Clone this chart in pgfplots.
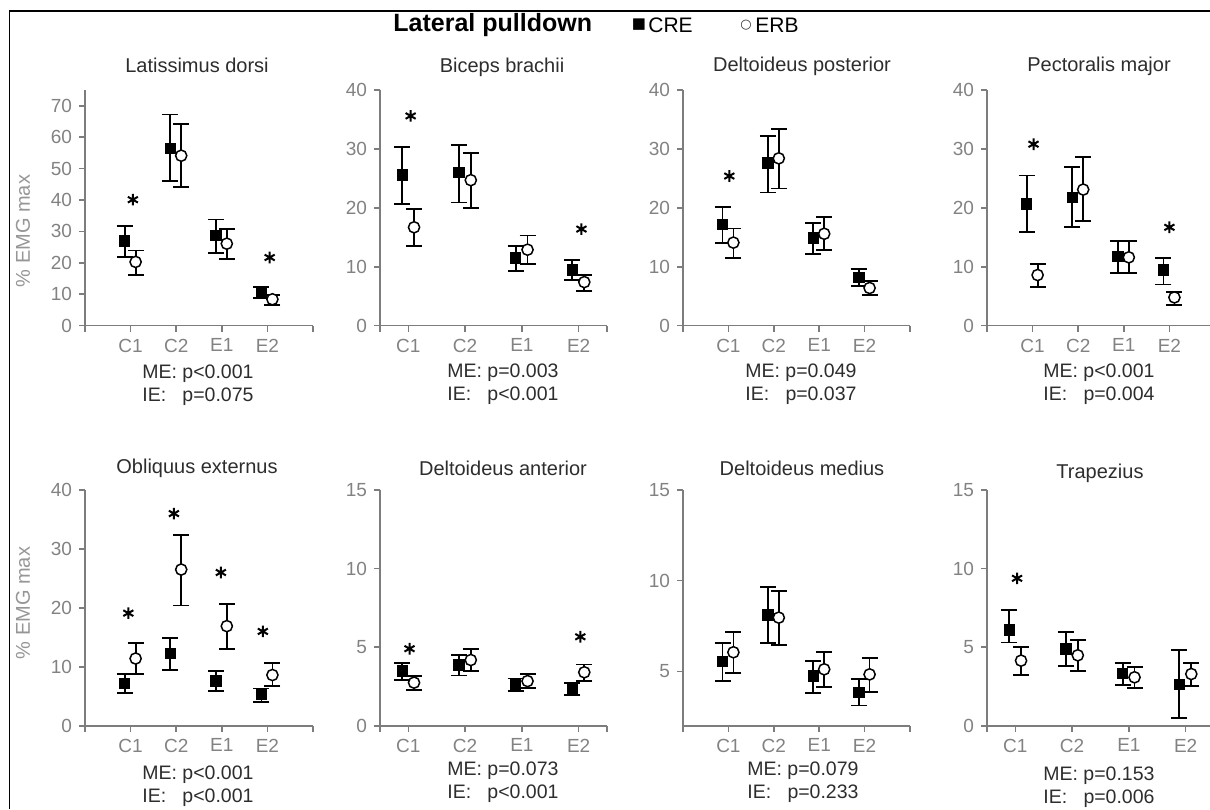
\documentclass[border=0pt]{standalone}
\usepackage{pgfplots}
\usepackage{pgfplotstable}
\pgfplotsset{compat=1.18}
\usepackage{fontspec}
\setmainfont{Liberation Sans}
\newfontfamily\dejavu{DejaVu Sans}
\definecolor{axgray}{RGB}{125,125,125}
\definecolor{tickgray}{RGB}{130,130,130}
\definecolor{labgray}{RGB}{150,150,150}
\definecolor{txt}{RGB}{45,45,45}

\pgfplotsset{
  panel/.style={
    scale only axis, width=114pt, height=117.85pt, anchor=south west,
    axis lines=left, axis line style={-, line width=0.8pt, draw=axgray},
    every tick/.style={line width=0.8pt, draw=axgray},
    tick align=outside, major tick length=3pt,
    ticklabel style={font=\fontsize{9.5}{10}\selectfont, color=tickgray},
    /pgf/number format/assume math mode=true,
    xtick={0,1,2,3,4,5}, xticklabels={{},C1,C2,E1,E2,{}}, xmin=0, xmax=5,
    ymin=0, clip=false,
  },
  narrow/.style={xtick={0.5,1,2,3,4,4.5}, xmin=0.5, xmax=4.5},
  cre/.style={only marks, black, mark=square*, mark size=2.6pt,
    mark options={fill=black, draw=black},
    error bars/.cd, y dir=both, y explicit,
    error bar style={line width=0.9pt, black},
    error mark options={rotate=90, line width=0.9pt, mark size=4pt, black}},
  erb/.style={only marks, black, mark=*, mark size=2.8pt,
    mark options={fill=white, draw=black, line width=0.75pt},
    error bars/.cd, y dir=both, y explicit,
    error bar style={line width=0.9pt, black},
    error mark options={rotate=90, line width=0.9pt, mark size=4pt, black}},
  star/.style={only marks, black, mark=asterisk, mark size=2.9pt, mark options={line width=1pt}},
}

% ---------- data: x  y  error+  error- ----------
\pgfplotstableread{
x y ep em
0.87 27.0 4.8 5.1
1.87 56.5 10.7 10.4
2.87 28.8 5.0 5.6
3.87 10.7 1.7 2.0
}\PaC
\pgfplotstableread{
x y ep em
1.11 20.3 3.6 4.1
2.11 54.1 10.2 10.0
3.11 26.1 4.7 4.8
4.11 8.4 1.3 1.8
}\PaE
\pgfplotstableread{
x y ep em
0.89 25.6 4.7 4.9
1.89 26.0 4.6 5.1
2.89 11.5 2.0 2.2
3.89 9.5 1.7 1.8
}\PbC
\pgfplotstableread{
x y ep em
1.10 16.7 3.1 3.2
2.10 24.7 4.6 4.7
3.10 12.9 2.4 2.4
4.10 7.4 1.2 1.5
}\PbE
\pgfplotstableread{
x y ep em
0.87 17.2 3.0 3.1
1.87 27.6 4.6 5.0
2.87 14.9 2.5 2.7
3.87 8.2 1.4 1.4
}\PcC
\pgfplotstableread{
x y ep em
1.11 14.1 2.4 2.6
2.11 28.4 5.0 5.1
3.11 15.6 2.8 2.7
4.11 6.4 1.2 1.2
}\PcE
\pgfplotstableread{
x y ep em
0.87 20.7 4.8 4.8
1.87 21.8 5.2 5.1
2.87 11.8 2.6 2.9
3.87 9.5 2.0 2.5
}\PdC
\pgfplotstableread{
x y ep em
1.11 8.6 1.9 2.1
2.11 23.1 5.5 5.4
3.11 11.6 2.8 2.7
4.11 4.8 0.9 1.3
}\PdE
\pgfplotstableread{
x y ep em
0.87 7.2 1.6 1.7
1.87 12.3 2.6 2.9
2.87 7.6 1.7 1.7
3.87 5.3 1.0 1.3
}\PeC
\pgfplotstableread{
x y ep em
1.11 11.4 2.6 2.6
2.11 26.5 5.9 6.1
3.11 16.9 3.8 3.9
4.11 8.6 2.0 1.9
}\PeE
\pgfplotstableread{
x y ep em
0.89 3.50 0.50 0.60
1.89 3.86 0.64 0.66
2.89 2.65 0.35 0.45
3.89 2.33 0.37 0.40
}\PfC
\pgfplotstableread{
x y ep em
1.10 2.74 0.42 0.47
2.10 4.18 0.68 0.70
3.10 2.84 0.43 0.46
4.10 3.40 0.50 0.56
}\PfE
\pgfplotstableread{
x y ep em
0.87 5.53 1.01 1.06
1.87 8.11 1.52 1.57
2.87 4.74 0.83 0.95
3.87 3.84 0.72 0.73
}\PgC
\pgfplotstableread{
x y ep em
1.11 6.05 1.10 1.16
2.11 7.96 1.49 1.51
3.11 5.11 0.94 0.96
4.11 4.83 0.89 0.95
}\PgE
\pgfplotstableread{
x y ep em
0.89 6.09 1.27 0.79
1.89 4.88 1.06 1.06
2.89 3.33 0.64 0.76
3.89 2.63 2.19 2.16
}\PhC
\pgfplotstableread{
x y ep em
1.10 4.14 0.85 0.91
2.10 4.48 0.97 0.98
3.10 3.08 0.68 0.70
4.10 3.29 0.68 0.74
}\PhE

\newcommand{\ptitle}[1]{\fontsize{10}{12}\selectfont\color{txt}#1}
\newcommand{\stats}[2]{\fontsize{9.75}{11.5}\selectfont\color{txt}\begin{tabular}{@{}l@{\ }l@{}}ME: & #1\\ IE: & #2\end{tabular}}

\begin{document}
\begin{tikzpicture}
\path[use as bounding box] (0,0) rectangle (605pt,404.5pt);
\draw[line width=0.75pt] (4.75pt,0pt) -- (4.75pt,399pt) -- (605pt,399pt);

% ---------------- top row ----------------
\begin{axis}[panel, at={(42.5pt,241.65pt)}, ymax=75, ytick={0,10,...,70}]
\addplot[cre] table[x=x,y=y,y error plus=ep,y error minus=em] {\PaC};
\addplot[erb] table[x=x,y=y,y error plus=ep,y error minus=em] {\PaE};
\addplot[star] coordinates {(1.05,40.1) (4.05,21.7)};
\end{axis}

\begin{axis}[panel, narrow, width=113.5pt, at={(190pt,241.65pt)}, ymax=40, ytick={0,10,...,40}]
\addplot[cre] table[x=x,y=y,y error plus=ep,y error minus=em] {\PbC};
\addplot[erb] table[x=x,y=y,y error plus=ep,y error minus=em] {\PbE};
\addplot[star] coordinates {(1.04,35.6) (4.05,16.4)};
\end{axis}

\begin{axis}[panel, width=113.5pt, at={(341.5pt,241.65pt)}, ymax=40, ytick={0,10,...,40}]
\addplot[cre] table[x=x,y=y,y error plus=ep,y error minus=em] {\PcC};
\addplot[erb] table[x=x,y=y,y error plus=ep,y error minus=em] {\PcE};
\addplot[star] coordinates {(1.02,25.4)};
\end{axis}

\begin{axis}[panel, at={(493.5pt,241.65pt)}, ymax=40, ytick={0,10,...,40}]
\addplot[cre] table[x=x,y=y,y error plus=ep,y error minus=em] {\PdC};
\addplot[erb] table[x=x,y=y,y error plus=ep,y error minus=em] {\PdE};
\addplot[star] coordinates {(1.02,30.8) (4.0,16.7)};
\end{axis}

% ---------------- bottom row ----------------
\begin{axis}[panel, at={(42.5pt,41.65pt)}, ymax=40, ytick={0,10,...,40}]
\addplot[cre] table[x=x,y=y,y error plus=ep,y error minus=em] {\PeC};
\addplot[erb] table[x=x,y=y,y error plus=ep,y error minus=em] {\PeE};
\addplot[star] coordinates {(0.95,19.1) (1.95,36.0) (2.98,26.0) (3.9,16.0)};
\end{axis}

\begin{axis}[panel, narrow, width=113.5pt, at={(190pt,41.65pt)}, ymax=15, ytick={0,5,10,15}]
\addplot[cre] table[x=x,y=y,y error plus=ep,y error minus=em] {\PfC};
\addplot[erb] table[x=x,y=y,y error plus=ep,y error minus=em] {\PfE};
\addplot[star] coordinates {(1.02,4.9) (4.03,5.66)};
\end{axis}

\begin{axis}[panel, width=113.5pt, at={(341.5pt,41.65pt)}, ymin=2, ymax=15, ytick={5,10,15}]
\addplot[cre] table[x=x,y=y,y error plus=ep,y error minus=em] {\PgC};
\addplot[erb] table[x=x,y=y,y error plus=ep,y error minus=em] {\PgE};
\end{axis}

\begin{axis}[panel, narrow, width=113.5pt, at={(493.5pt,41.65pt)}, ymax=15, ytick={0,5,10,15}]
\addplot[cre] table[x=x,y=y,y error plus=ep,y error minus=em] {\PhC};
\addplot[erb] table[x=x,y=y,y error plus=ep,y error minus=em] {\PhE};
\addplot[star] coordinates {(1.03,9.38)};
\end{axis}

% ---------------- texts ----------------
\node[anchor=west, inner sep=0pt, font=\bfseries\fontsize{12.5}{14}\selectfont] at (196.5pt,392pt) {Lateral pulldown};
\node[anchor=center, inner sep=0pt, font=\dejavu\fontsize{7.5}{7.5}\selectfont] at (319.5pt,392pt) {■};
\node[anchor=west, inner sep=0pt, font=\fontsize{10.5}{12}\selectfont] at (324pt,392pt) {CRE};
\node[anchor=center, inner sep=0pt, font=\dejavu\fontsize{6.5}{7}\selectfont, color=txt] at (373pt,392pt) {○};
\node[anchor=west, inner sep=0pt, font=\fontsize{10.5}{12}\selectfont] at (377.5pt,392pt) {ERB};

\node at (98.5pt,372pt) {\ptitle{Latissimus dorsi}};
\node at (251pt,371pt) {\ptitle{Biceps brachii}};
\node at (401pt,371.5pt) {\ptitle{Deltoideus posterior}};
\node at (549.5pt,371.5pt) {\ptitle{Pectoralis major}};
\node at (98.5pt,170.5pt) {\ptitle{Obliquus externus}};
\node at (251.5pt,170.5pt) {\ptitle{Deltoideus anterior}};
\node at (401pt,170.5pt) {\ptitle{Deltoideus medius}};
\node at (550pt,168pt) {\ptitle{Trapezius}};

\node[rotate=90, color=labgray, font=\fontsize{10}{12}\selectfont] at (11.5pt,289pt) {\% EMG max};
\node[rotate=90, color=labgray, font=\fontsize{10}{12}\selectfont] at (11.5pt,103pt) {\% EMG max};

\node[anchor=west, inner sep=0pt] at (71pt,212pt) {\stats{p<0.001}{p=0.075}};
\node[anchor=west, inner sep=0pt] at (223.5pt,212.5pt) {\stats{p=0.003}{p<0.001}};
\node[anchor=west, inner sep=0pt] at (372.5pt,212.5pt) {\stats{p=0.049}{p=0.037}};
\node[anchor=west, inner sep=0pt] at (521.5pt,212.5pt) {\stats{p<0.001}{p=0.004}};
\node[anchor=west, inner sep=0pt] at (71pt,11.5pt) {\stats{p<0.001}{p<0.001}};
\node[anchor=west, inner sep=0pt] at (223.5pt,13.25pt) {\stats{p=0.073}{p<0.001}};
\node[anchor=west, inner sep=0pt] at (373.5pt,13.25pt) {\stats{p=0.079}{p=0.233}};
\node[anchor=west, inner sep=0pt] at (521.5pt,10.75pt) {\stats{p=0.153}{p=0.006}};
\end{tikzpicture}
\end{document}
